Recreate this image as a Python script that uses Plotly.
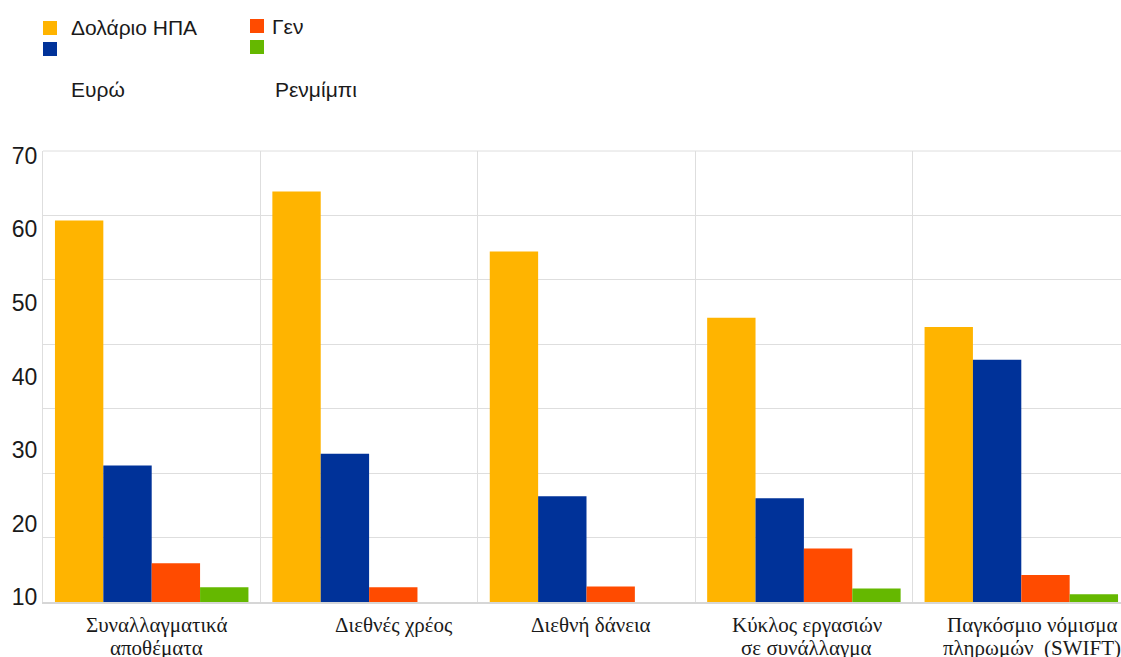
import plotly.graph_objects as go

# ---------------- data ----------------
categories = ["Συναλλαγματικά αποθέματα", "Διεθνές χρέος", "Διεθνή δάνεια",
              "Κύκλος εργασιών σε συνάλλαγμα", "Παγκόσμιο νόμισμα πληρωμών (SWIFT)"]
category_labels = [["Συναλλαγματικά", "αποθέματα"], ["Διεθνές χρέος"], ["Διεθνή δάνεια"],
                   ["Κύκλος εργασιών", "σε συνάλλαγμα"],
                   ["Παγκόσμιο νόμισμα", "πληρωμών\u00a0 (SWIFT)"]]
series_names = ["Δολάριο ΗΠΑ", "Ευρώ", "Γεν", "Ρενμίμπι"]
usd = [59.2, 63.7, 54.4, 44.1, 42.7]
eur = [21.2, 23.0, 16.4, 16.1, 37.6]
jpy = [6.0, 2.3, 2.4, 8.3, 4.2]
cny = [2.3, None, None, 2.1, 1.2]
tick_labels = [10, 20, 30, 40, 50, 60, 70]

# ---------------- style ----------------
colors = ["#FFB400", "#003299", "#FF4B00", "#65B800"]
W, H = 1121, 657
L, R, T, B = 43, 0, 151, 55
label_shift = [5, 25, 4, 3, 11]
SANS = "Liberation Sans, Arial, sans-serif"
SERIF = "Liberation Serif, Times New Roman, serif"

fig = go.Figure()
for name, vals, col in zip(series_names, [usd, eur, jpy, cny], colors):
    fig.add_trace(go.Bar(x=categories, y=vals, name=name, marker_color=col,
                         marker_line_width=0, showlegend=False))

# the printed tick labels are spread over a slightly different span than the grid
lab_lo, lab_hi = 9.36, 70.64
tick_pos = [(v - lab_lo) / (lab_hi - lab_lo) * 70 for v in tick_labels]

grid = "#dedede"
fig.update_layout(
    width=W, height=H, margin=dict(l=L, r=R, t=T, b=B),
    paper_bgcolor="white", plot_bgcolor="white",
    barmode="group", bargap=0.11, bargroupgap=0,
    xaxis=dict(type="category", tickson="boundaries", showgrid=True, gridcolor=grid,
               gridwidth=1, showticklabels=False, ticks="", range=[-0.5, 4.4586],
               showline=True, linecolor="#d6d6d6", linewidth=2, fixedrange=True),
    yaxis=dict(range=[0, 70], tickmode="array", tickvals=tick_pos,
               ticktext=[str(v) for v in tick_labels], showgrid=False, ticks="",
               tickfont=dict(family=SANS, size=23, color="#1a1a1a"),
               minor=dict(tickmode="linear", tick0=0, dtick=10, showgrid=True,
                          gridcolor=grid, gridwidth=1, ticks=""),
               zeroline=False, showline=True, linecolor=grid, linewidth=1, fixedrange=True),
    font=dict(family=SANS, color="#1a1a1a"),
)
# top border of the plot area (same colour as the grid)
fig.add_shape(type="line", xref="paper", yref="paper", x0=0, x1=1, y0=1, y1=1,
              line=dict(color=grid, width=1))

# category labels (one annotation per line to control the line spacing)
for cat, lines, sh in zip(categories, category_labels, label_shift):
    for i, line in enumerate(lines):
        fig.add_annotation(x=cat, xref="x", y=0, yref="paper", yanchor="middle",
                           xanchor="center", text=line, showarrow=False,
                           xshift=sh, yshift=-(23 + 23 * i),
                           font=dict(family=SERIF, size=21, color="#1a1a1a"))

# manual legend (pixel positions converted to paper coordinates)
PW, PH = W - L - R, H - T - B
def px(x):
    return (x - L) / PW
def py(y):
    return (H - B - y) / PH

legend_swatch = [(43, 21), (43, 42), (250, 19), (250, 40)]
legend_text = [(69, 27), (69, 89), (270, 26), (273, 89)]
for (sx, sy), (tx, ty), name, col in zip(legend_swatch, legend_text, series_names, colors):
    fig.add_shape(type="rect", xref="paper", yref="paper",
                  x0=px(sx), x1=px(sx + 14), y0=py(sy + 14), y1=py(sy),
                  fillcolor=col, line_width=0)
    fig.add_annotation(x=px(tx), y=py(ty), xref="paper", yref="paper", xanchor="left",
                       yanchor="middle", text=name, showarrow=False,
                       font=dict(family=SANS, size=21, color="#1a1a1a"))

fig.write_html("out.html", config=dict(displayModeBar=False))
